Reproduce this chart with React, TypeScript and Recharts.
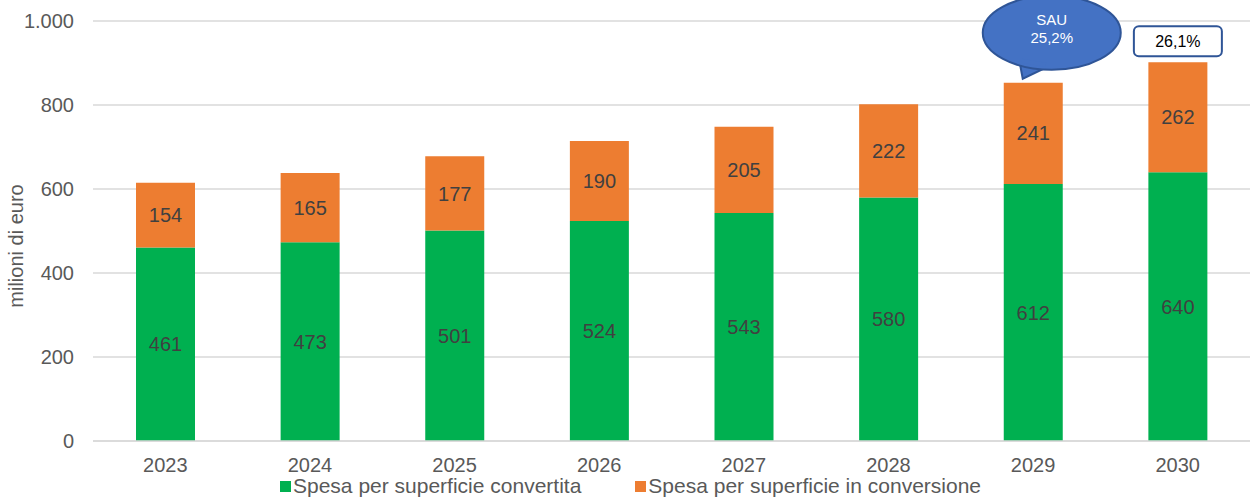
import { BarChart, Bar, XAxis, YAxis, CartesianGrid, LabelList } from "recharts";

const years = ["2023", "2024", "2025", "2026", "2027", "2028", "2029", "2030"];
const convertita = [461, 473, 501, 524, 543, 580, 612, 640];
const inConversione = [154, 165, 177, 190, 205, 222, 241, 262];
const yTicks = [0, 200, 400, 600, 800, 1000];

const GREEN = "#00B050";
const ORANGE = "#ED7D31";
const FONT = '"Liberation Sans", Arial, sans-serif';

const data = years.map((year, i) => ({
  year,
  convertita: convertita[i],
  inConversione: inConversione[i],
}));

const fmt = (v: number) => v.toLocaleString("it-IT").replace(/\s/g, ".");

// callouts sitting on top of the 2029 and 2030 bars
function Callout(props: any) {
  const { x, y, width, index } = props;
  if (index === 6) {
    const tipX = x + 19;
    const tipY = y - 4;
    const cx = tipX + 29;
    const cy = tipY - 46;
    return (
      <g>
        <path
          d={`M ${cx - 32} ${cy + 30} L ${tipX} ${tipY} L ${cx - 4} ${cy + 34} Z`}
          fill="#4472C4"
          stroke="#2F5597"
          strokeWidth={2}
        />
        <ellipse cx={cx} cy={cy} rx={69} ry={37} fill="#4472C4" stroke="#2F5597" strokeWidth={2} />
        <path d={`M ${cx - 30} ${cy + 28} L ${cx - 6} ${cy + 32}`} stroke="#4472C4" strokeWidth={4} />
        <text x={cx} y={cy - 8} textAnchor="middle" fill="#fff" fontSize={15} fontFamily={FONT}>
          SAU
        </text>
        <text x={cx} y={cy + 10} textAnchor="middle" fill="#fff" fontSize={15} fontFamily={FONT}>
          25,2%
        </text>
      </g>
    );
  }
  if (index === 7) {
    const cx = x + width / 2;
    return (
      <g>
        <rect x={cx - 44} y={y - 36} width={88} height={30} rx={5} fill="#fff" stroke="#2F5597" strokeWidth={2} />
        <text x={cx} y={y - 15} textAnchor="middle" fill="#000" fontSize={16} fontFamily={FONT}>
          26,1%
        </text>
      </g>
    );
  }
  return null;
}

const legendItems = [
  { label: "Spesa per superficie convertita", color: GREEN },
  { label: "Spesa per superficie in conversione", color: ORANGE },
];

export default function App() {
  return (
    <div style={{ position: "absolute", left: 0, top: 0, width: 1251, height: 503, background: "#fff" }}>
      <BarChart
        width={1251}
        height={503}
        data={data}
        margin={{ top: 21, right: 1, left: 0, bottom: 32 }}
      >
        <CartesianGrid horizontal vertical={false} stroke="#d9d9d9" strokeWidth={1.5} />
        <XAxis
          dataKey="year"
          height={30}
          axisLine={{ stroke: "#d9d9d9", strokeWidth: 1.5 }}
          tickLine={false}
          tickSize={0}
          tickMargin={17}
          tick={{ fontSize: 20, fill: "#595959", fontFamily: FONT }}
        />
        <YAxis
          width={93}
          domain={[0, 1000]}
          ticks={yTicks}
          tickFormatter={fmt}
          axisLine={false}
          tickLine={false}
          tickSize={0}
          tickMargin={19}
          tick={{ fontSize: 20, fill: "#595959", fontFamily: FONT }}
          label={{
            content: () => (
              <text
                x={16}
                y={246}
                transform="rotate(-90 16 246)"
                textAnchor="middle"
                dominantBaseline="central"
                fill="#595959"
                fontSize={20}
                fontFamily={FONT}
              >
                milioni di euro
              </text>
            ),
          }}
        />
        <Bar dataKey="convertita" stackId="a" fill={GREEN} barSize={59} isAnimationActive={false}>
          <LabelList
            dataKey="convertita"
            position="center"
            fill="#404040"
            fontSize={20}
            fontFamily={FONT}
          />
        </Bar>
        <Bar dataKey="inConversione" stackId="a" fill={ORANGE} barSize={59} isAnimationActive={false}>
          <LabelList
            dataKey="inConversione"
            position="center"
            fill="#404040"
            fontSize={20}
            fontFamily={FONT}
          />
          <LabelList dataKey="inConversione" content={<Callout />} />
        </Bar>
      </BarChart>
      <div
        style={{
          position: "absolute",
          left: 280,
          top: 476,
          display: "flex",
          gap: 54,
          fontFamily: FONT,
          fontSize: 21,
          lineHeight: "20px",
          color: "#595959",
          whiteSpace: "nowrap",
        }}
      >
        {legendItems.map((it) => (
          <div key={it.label} style={{ display: "flex", alignItems: "center" }}>
            <span style={{ width: 11, height: 11, background: it.color, marginRight: 2, display: "inline-block" }} />
            <span>{it.label}</span>
          </div>
        ))}
      </div>
    </div>
  );
}
